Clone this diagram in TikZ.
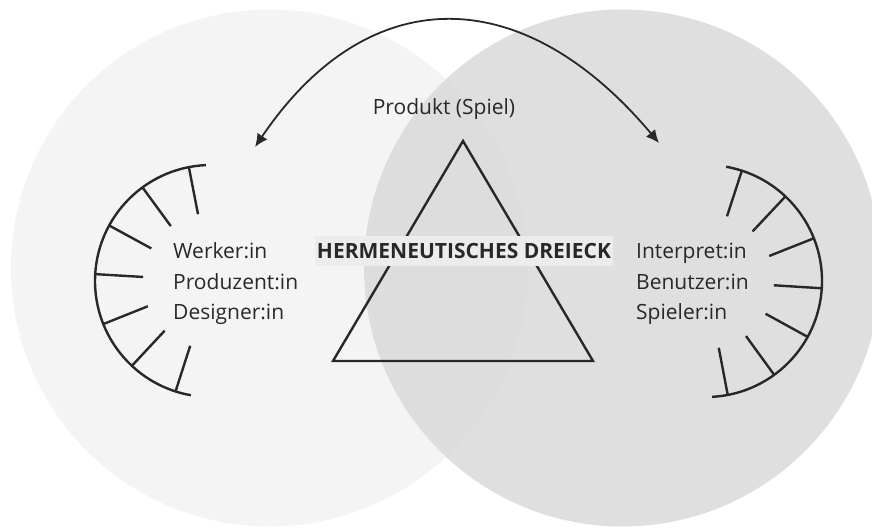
\documentclass[tikz,border=0pt]{standalone}
\usepackage{fontspec}
\setmainfont{Open Sans}
\usepackage{tikz}
\usetikzlibrary{arrows.meta, positioning, calc}
\definecolor{leftgray}{RGB}{244,244,244}
\definecolor{rightgray}{RGB}{216,216,216}
\definecolor{titlegray}{RGB}{236,236,236}
\definecolor{inkgray}{RGB}{40,40,40}

\begin{document}
\begin{tikzpicture}[x=1pt, y=1pt, font=\fontsize{21}{30.5}\selectfont,
  roles/.style={align=left, anchor=west, inner sep=0pt, text=inkgray},
  comb/.style={line width=2.4pt, draw=inkgray},
  ]
  \clip (0,0) rectangle (872,531);

  % Two overlapping circles
  \fill[leftgray] (269.5,263) circle (258.5);
  \fill[rightgray, fill opacity=0.82] (622.5,263) circle (258.5);

  % Triangle in the middle
  \coordinate (apex) at (463,390);
  \coordinate (baseL) at (333,170);
  \coordinate (baseR) at (593,170);
  \draw[comb, line join=miter] (apex) -- (baseL) -- (baseR) -- cycle;
  \node[fill=titlegray, font=\fontsize{21}{30}\selectfont\bfseries, text=inkgray,
        inner xsep=2pt, minimum height=30pt] (title) at (464,280) {HERMENEUTISCHES DREIECK};
  \node[text=inkgray] (product) at (444,422) {Produkt (Spiel)};

  % Left comb
  \coordinate (lefthub) at (211,250);
  \draw[comb] (lefthub) ++(92.5:116) arc[start angle=92.5, end angle=260, radius=116];
  \foreach \i in {0,...,6}{
    \pgfmathsetmacro{\a}{101+25.2*\i}
    \draw[comb] ($(lefthub)+(\a:116)$) -- ($(lefthub)+(\a:68)$);
  }
  \node[roles] (leftroles) at (173,247) {Werker:in\\Produzent:in\\Designer:in};

  % Right comb
  \coordinate (righthub) at (706,250);
  \draw[comb] (righthub) ++(80:116) arc[start angle=80, end angle=-87, radius=116];
  \foreach \i in {0,...,6}{
    \pgfmathsetmacro{\a}{72-25.2*\i}
    \draw[comb] ($(righthub)+(\a:116)$) -- ($(righthub)+(\a:68)$);
  }
  \node[roles] (rightroles) at (636,247) {Interpret:in\\Benutzer:in\\Spieler:in};

  % Exchange arrow over the top
  \coordinate (arrL) at (255,384);
  \coordinate (arrR) at (659,388);
  \draw[inkgray, line width=1.8pt, {Latex[length=13pt,width=12pt]}-{Latex[length=13pt,width=12pt]}]
    (arrL) .. controls (368,551) and (522,551) .. (arrR);

\end{tikzpicture}
\end{document}
